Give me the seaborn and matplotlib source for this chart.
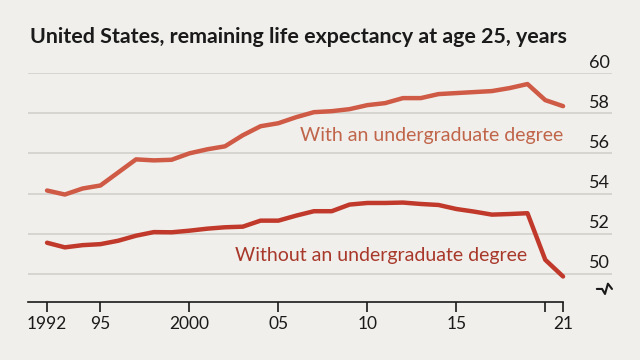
import pandas as pd
import matplotlib.pyplot as plt
import matplotlib.transforms as mtransforms
import seaborn as sns

# remaining life expectancy at age 25
years = list(range(1992, 2022))
with_degree = [54.15, 53.95, 54.25, 54.4, 55.05, 55.7, 55.65, 55.68, 56.0, 56.2,
               56.35, 56.9, 57.35, 57.5, 57.8, 58.05, 58.1, 58.2, 58.4, 58.5,
               58.75, 58.75, 58.95, 59.0, 59.05, 59.1, 59.25, 59.45, 58.65, 58.35]
without_degree = [51.55, 51.32, 51.43, 51.48, 51.65, 51.9, 52.08, 52.07, 52.15, 52.25,
                  52.32, 52.35, 52.65, 52.65, 52.9, 53.12, 53.12, 53.45, 53.53, 53.53,
                  53.55, 53.48, 53.43, 53.23, 53.1, 52.95, 52.98, 53.02, 50.7, 49.87]

x_ticks = [1992, 1995, 2000, 2005, 2010, 2015, 2020, 2021]
x_labels = ['1992', '95', '2000', '05', '10', '15', '', '21']
y_ticks = [50, 52, 54, 56, 58, 60]

df = pd.DataFrame({'year': years, 'with': with_degree, 'without': without_degree})

bg = '#f0efeb'
sns.set_theme(style="white")
plt.rcParams['font.family'] = ['Lato', 'DejaVu Sans']

fig = plt.figure(figsize=(6.4, 3.6), dpi=100, facecolor=bg)
ax = fig.add_axes([28 / 640, 58 / 360, 584 / 640, 229 / 360])
ax.set_facecolor(bg)

for y in y_ticks:
    ax.axhline(y, color='#d3d0cb', lw=1.2, zorder=1)

sns.lineplot(data=df, x='year', y='with', color='#cf5a45', lw=3.2, ax=ax, zorder=3)
sns.lineplot(data=df, x='year', y='without', color='#c0392b', lw=3.2, ax=ax, zorder=3)

ax.set_xlim(1990.93, 2023.75)
ax.set_ylim(48.6, 60)

for s in ['top', 'right', 'left']:
    ax.spines[s].set_visible(False)
ax.spines['bottom'].set_color('#1a1a1a')
ax.spines['bottom'].set_linewidth(1.2)
ax.spines['bottom'].set_bounds(1990.93, 2021)

ax.set_xticks(x_ticks)
ax.set_xticklabels(x_labels, fontsize=12.5, color='#1a1a1a')
ax.tick_params(axis='x', length=7, width=1.2, color='#1a1a1a', pad=3, bottom=True)
ax.set_yticks([])
ax.set_xlabel('')
ax.set_ylabel('')

trans = mtransforms.blended_transform_factory(ax.transAxes, ax.transData)
for y in y_ticks:
    ax.text(0.997, y + 0.12, str(y), transform=trans, ha='right', va='bottom',
            fontsize=13, color='#1a1a1a')

# axis break mark below the last gridline
ax.plot([0.974, 0.983, 0.988, 0.993, 1.0], [0.057, 0.057, 0.035, 0.08, 0.057],
        transform=ax.transAxes, color='#1a1a1a', lw=1.5, clip_on=False)

ax.text(2021, 56.9, 'With an undergraduate degree', ha='right', va='center',
        fontsize=14, color='#c0654a')
ax.text(2019, 50.92, 'Without an undergraduate degree', ha='right', va='center',
        fontsize=14, color='#a8382a')

fig.text(30 / 640, 1 - 37 / 360, 'United States, remaining life expectancy at age 25, years',
         ha='left', va='center', fontsize=15.4, fontweight='bold', color='#1a1a1a')

fig.savefig('out.png', dpi=100, facecolor=bg)
